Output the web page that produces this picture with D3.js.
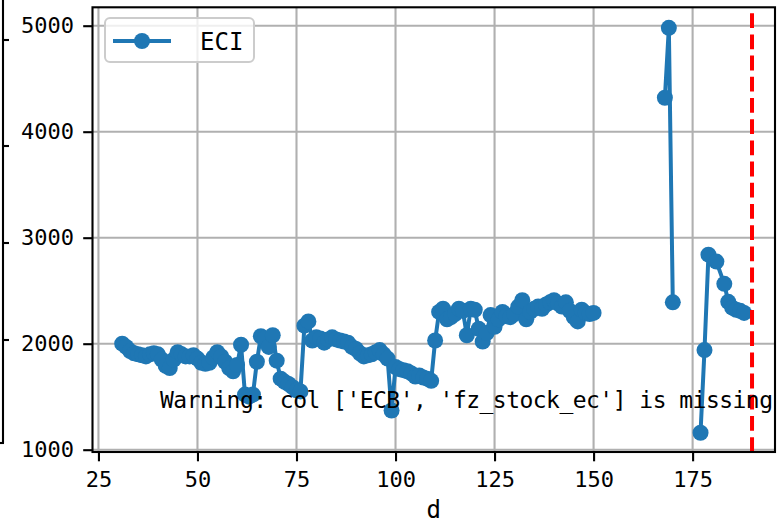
<!DOCTYPE html>
<html><head><meta charset="utf-8">
<script src="https://cdn.jsdelivr.net/npm/d3@7"></script>
<style>body{margin:0;background:#fff} svg{display:block}</style>
</head><body>
<script>
// ---- data ----
const days = [31,32,33,34,35,36,37,38,39,40,41,42,43,44,45,46,47,48,49,50,
  51,52,53,54,55,56,57,58,59,60,61,62,63,64,65,66,67,68,69,70,
  71,72,73,74,75,76,77,78,79,80,81,82,83,84,85,86,87,88,89,90,
  91,92,93,94,95,96,97,98,99,100,101,102,103,104,105,106,107,108,109,110,
  111,112,113,114,115,116,117,118,119,120,121,122,123,124,125,126,127,128,129,130,
  131,132,133,134,135,136,137,138,139,140,141,142,143,144,145,146,147,148,149,150,
  151,168,169,170,171,177,178,179,181,183,184,185,186,187,188];
const eci = [2000,1970,1930,1910,1900,1890,1880,1900,1910,1900,1850,1790,1770,1850,1920,1900,1880,1880,1890,1860,
  1820,1810,1820,1870,1920,1880,1830,1770,1740,1800,1990,1520,1500,1520,1830,2070,2050,1970,2080,1840,
  1670,1640,1620,1590,1560,1550,2170,2210,2030,2060,2050,2010,2040,2060,2040,2030,2020,2010,1970,1950,
  1910,1880,1890,1900,1920,1940,1900,1860,1370,1780,1760,1750,1740,1720,1690,1700,1680,1670,1650,2030,
  2300,2330,2230,2250,2280,2330,2310,2080,2330,2320,2140,2020,2100,2270,2160,2230,2300,2260,2250,2280,
  2350,2410,2230,2300,2330,2350,2330,2370,2390,2410,2380,2350,2390,2310,2250,2210,2320,2290,2280,2290,
  null,4320,4980,2390,null,1160,1940,2840,2775,2565,2395,2340,2320,2310,2290];
const xTicks = [25,50,75,100,125,150,175];
const yTicks = [1000,2000,3000,4000,5000];
const vlineAt = 190;
const seriesName = "ECI";
const xLabel = "d";
const warningText = "Warning: col ['ECB', 'fz_stock_ec'] is missing";
const otherAxisTicks = [40,146,243,340];

// ---- layout ----
const W = 778, H = 523;
const m = {left: 92.5, right: 775, top: 7.3, bottom: 452};
const blue = "#1f77b4";
const font = "'DejaVu Sans Mono', monospace";

const svg = d3.select("body").append("svg").attr("width", W).attr("height", H);

const x = d3.scaleLinear().domain([23.5, 195.8]).range([m.left, m.right]);
const y = d3.scaleLinear().domain([978.3, 5173.6]).range([m.bottom, m.top]);

// partial axis of neighbouring subplot at far left
const other = svg.append("g");
other.append("line").attr("x1", 3).attr("x2", 3).attr("y1", 0).attr("y2", 443)
  .attr("stroke", "#000").attr("stroke-width", 2.1);
other.append("line").attr("x1", 0).attr("x2", 4).attr("y1", 443).attr("y2", 443)
  .attr("stroke", "#000").attr("stroke-width", 2.1);
other.selectAll("line.t").data(otherAxisTicks).join("line").attr("class", "t")
  .attr("x1", 3).attr("x2", 9).attr("y1", d => d).attr("y2", d => d)
  .attr("stroke", "#000").attr("stroke-width", 2.1);

// grid
const grid = svg.append("g");
grid.selectAll("line.gx").data(xTicks).join("line").attr("class", "gx")
  .attr("x1", d => x(d)).attr("x2", d => x(d)).attr("y1", m.top).attr("y2", m.bottom)
  .attr("stroke", "#b0b0b0").attr("stroke-width", 2.1);
grid.selectAll("line.gy").data(yTicks).join("line").attr("class", "gy")
  .attr("x1", m.left).attr("x2", m.right).attr("y1", d => y(d)).attr("y2", d => y(d))
  .attr("stroke", "#b0b0b0").attr("stroke-width", 2.1);

// clip
svg.append("clipPath").attr("id", "clip").append("rect")
  .attr("x", m.left).attr("y", m.top).attr("width", m.right - m.left).attr("height", m.bottom - m.top);

const data = days.map((d, i) => ({d, v: eci[i]}));
const plot = svg.append("g").attr("clip-path", "url(#clip)");
const line = d3.line().defined(p => p.v != null).x(p => x(p.d)).y(p => y(p.v));
plot.append("path").datum(data).attr("d", line).attr("fill", "none")
  .attr("stroke", blue).attr("stroke-width", 4).attr("stroke-linejoin", "round");
plot.selectAll("circle").data(data.filter(p => p.v != null)).join("circle")
  .attr("cx", p => x(p.d)).attr("cy", p => y(p.v)).attr("r", 8).attr("fill", blue);

// red dashed vertical line (drawn from bottom upwards)
plot.append("line").attr("x1", x(vlineAt)).attr("x2", x(vlineAt))
  .attr("y1", m.bottom).attr("y2", m.top)
  .attr("stroke", "#ff0000").attr("stroke-width", 4).attr("stroke-dasharray", "14.8,6.4");

// axes
const xAxis = d3.axisBottom(x).tickValues(xTicks).tickSize(9.3).tickPadding(10.5).tickFormat(d3.format("d"));
const yAxis = d3.axisLeft(y).tickValues(yTicks).tickSize(9.3).tickPadding(9.3).tickFormat(d3.format("d"));
const gx = svg.append("g").attr("transform", `translate(0,${m.bottom})`).call(xAxis);
const gy = svg.append("g").attr("transform", `translate(${m.left},0)`).call(yAxis);
[gx, gy].forEach(g => {
  g.select(".domain").remove();
  g.selectAll(".tick line").attr("stroke", "#000").attr("stroke-width", 2.1);
  g.selectAll(".tick text").attr("fill", "#000").style("font-family", font).style("font-size", "22px");
});

// spines
svg.append("rect").attr("x", m.left).attr("y", m.top).attr("width", m.right - m.left)
  .attr("height", m.bottom - m.top).attr("fill", "none").attr("stroke", "#000").attr("stroke-width", 2.1);

// x label
svg.append("text").attr("x", (m.left + m.right) / 2).attr("y", 518).attr("text-anchor", "middle")
  .style("font-family", font).style("font-size", "24px").text(xLabel);

// warning text
svg.append("text").attr("x", 160).attr("y", 408)
  .attr("textLength", 613).attr("lengthAdjust", "spacing")
  .style("font-family", font).style("font-size", "23px").attr("fill", "#000").text(warningText);

// legend
const lg = svg.append("g");
lg.append("rect").attr("x", 105).attr("y", 18).attr("width", 149).attr("height", 44).attr("rx", 5)
  .attr("fill", "#fff").attr("fill-opacity", 0.8).attr("stroke", "#cccccc").attr("stroke-width", 2);
lg.append("line").attr("x1", 113).attr("x2", 171).attr("y1", 41).attr("y2", 41)
  .attr("stroke", blue).attr("stroke-width", 4);
lg.append("circle").attr("cx", 142).attr("cy", 41).attr("r", 8).attr("fill", blue);
lg.append("text").attr("x", 200).attr("y", 50).style("font-family", font).style("font-size", "24px")
  .text(seriesName);
</script>
</body></html>
